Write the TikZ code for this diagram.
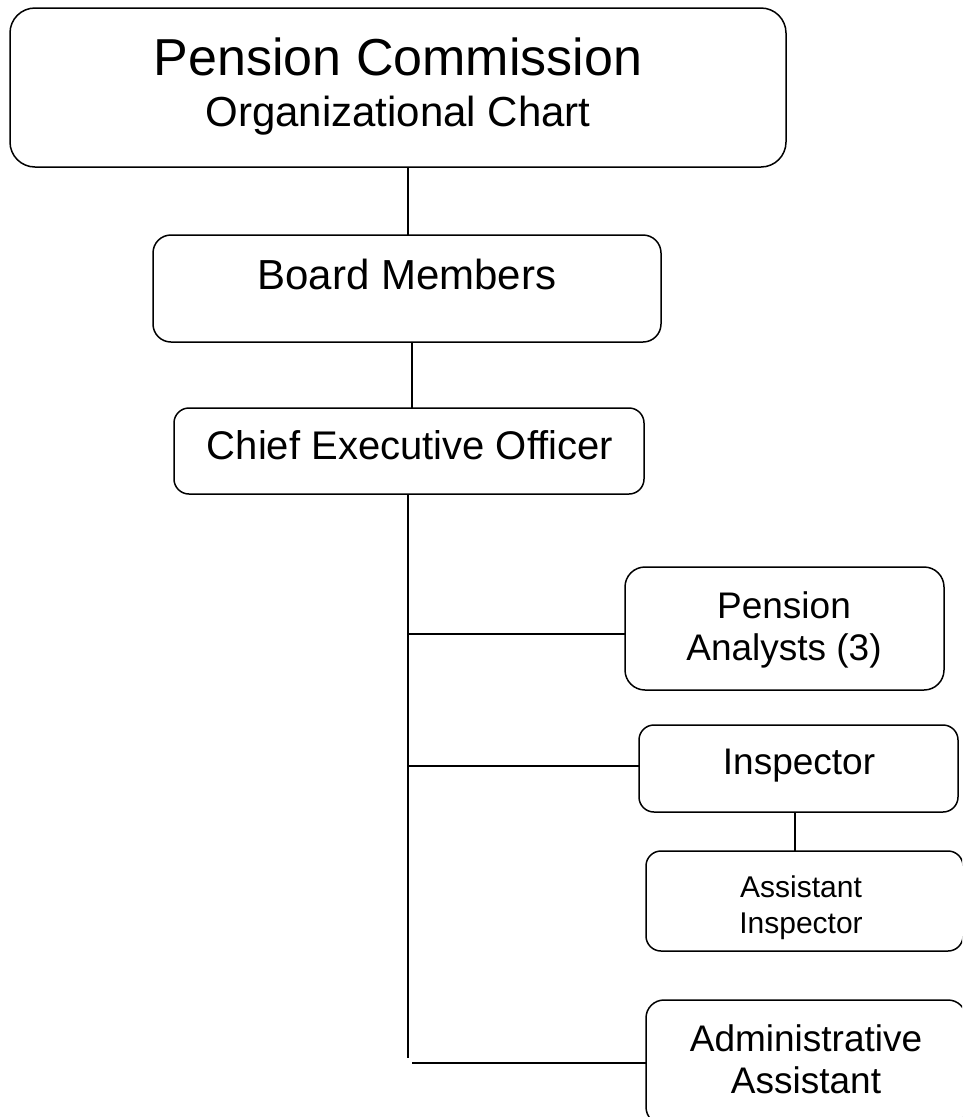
\documentclass[tikz,border=0pt]{standalone}
\usepackage{fontspec}
\setmainfont{Liberation Sans}
\begin{document}
\begin{tikzpicture}[x=1pt,y=-1pt,
  box/.style={draw=black,line width=1.5pt,rectangle,inner sep=0pt,outer sep=0pt},
  conn/.style={draw=black,line width=1.3pt},
  txt/.style={anchor=base,inner sep=0pt,text=black}]
\useasboundingbox (0,0) rectangle (962,1117);
\clip (0,0) rectangle (962,1117);
% boxes
\node[box,rounded corners=25pt,minimum width=776pt,minimum height=159pt] (top) at (398,87.5) {};
\node[box,rounded corners=18pt,minimum width=508pt,minimum height=107pt] (board) at (407,288.5) {};
\node[box,rounded corners=15pt,minimum width=470pt,minimum height=86pt] (ceo) at (409,451) {};
\node[box,rounded corners=20pt,minimum width=319pt,minimum height=123pt] (pa) at (784.5,628.5) {};
\node[box,rounded corners=15pt,minimum width=319pt,minimum height=87pt] (insp) at (798.5,768.5) {};
\node[box,rounded corners=15pt,minimum width=317pt,minimum height=100pt] (ai) at (804.5,901) {};
\node[box,rounded corners=18pt,minimum width=320pt,minimum height=125pt] (admin) at (806,1062.5) {};
% texts
\node[txt,font=\fontsize{52}{62}\selectfont] (t1) at (398,75) {Pension Commission};
\node[txt,font=\fontsize{42}{50}\selectfont] (t2) at (398,126) {Organizational Chart};
\node[txt,font=\fontsize{42}{50}\selectfont] (t3) at (407,289) {Board Members};
\node[txt,font=\fontsize{40}{48}\selectfont] (t4) at (410,459) {Chief Executive Officer};
\node[txt,font=\fontsize{37}{44}\selectfont] (t5) at (784,618) {Pension};
\node[txt,font=\fontsize{37}{44}\selectfont] (t6) at (784,660) {Analysts (3)};
\node[txt,font=\fontsize{37}{44}\selectfont] (t7) at (799,774) {Inspector};
\node[txt,font=\fontsize{30}{36}\selectfont] (t8) at (801,897) {Assistant};
\node[txt,font=\fontsize{30}{36}\selectfont] (t9) at (801,933) {Inspector};
\node[txt,font=\fontsize{37}{44}\selectfont] (t10) at (806,1051) {Administrative};
\node[txt,font=\fontsize{37}{44}\selectfont] (t11) at (806,1093) {Assistant};
% connectors
\coordinate (tstart) at (408,494);
\coordinate (tend) at (408,1058);
\coordinate (bpa) at (408,634);
\coordinate (binsp) at (408,766);
\coordinate (badm) at (412,1063);
\draw[conn] ([xshift=1pt]board.north) -- ([xshift=1pt]board.north |- top.south);
\draw[conn] ([xshift=3pt]ceo.north) -- ([xshift=3pt]ceo.north |- board.south);
\draw[conn] (tstart) -- (tend);
\draw[conn] (bpa) -- (bpa -| pa.west);
\draw[conn] (binsp) -- (binsp -| insp.west);
\draw[conn] (badm) -- (badm -| admin.west);
\draw[conn] ([xshift=-3.5pt]insp.south) -- ([xshift=-3.5pt]insp.south |- ai.north);
\end{tikzpicture}
\end{document}
